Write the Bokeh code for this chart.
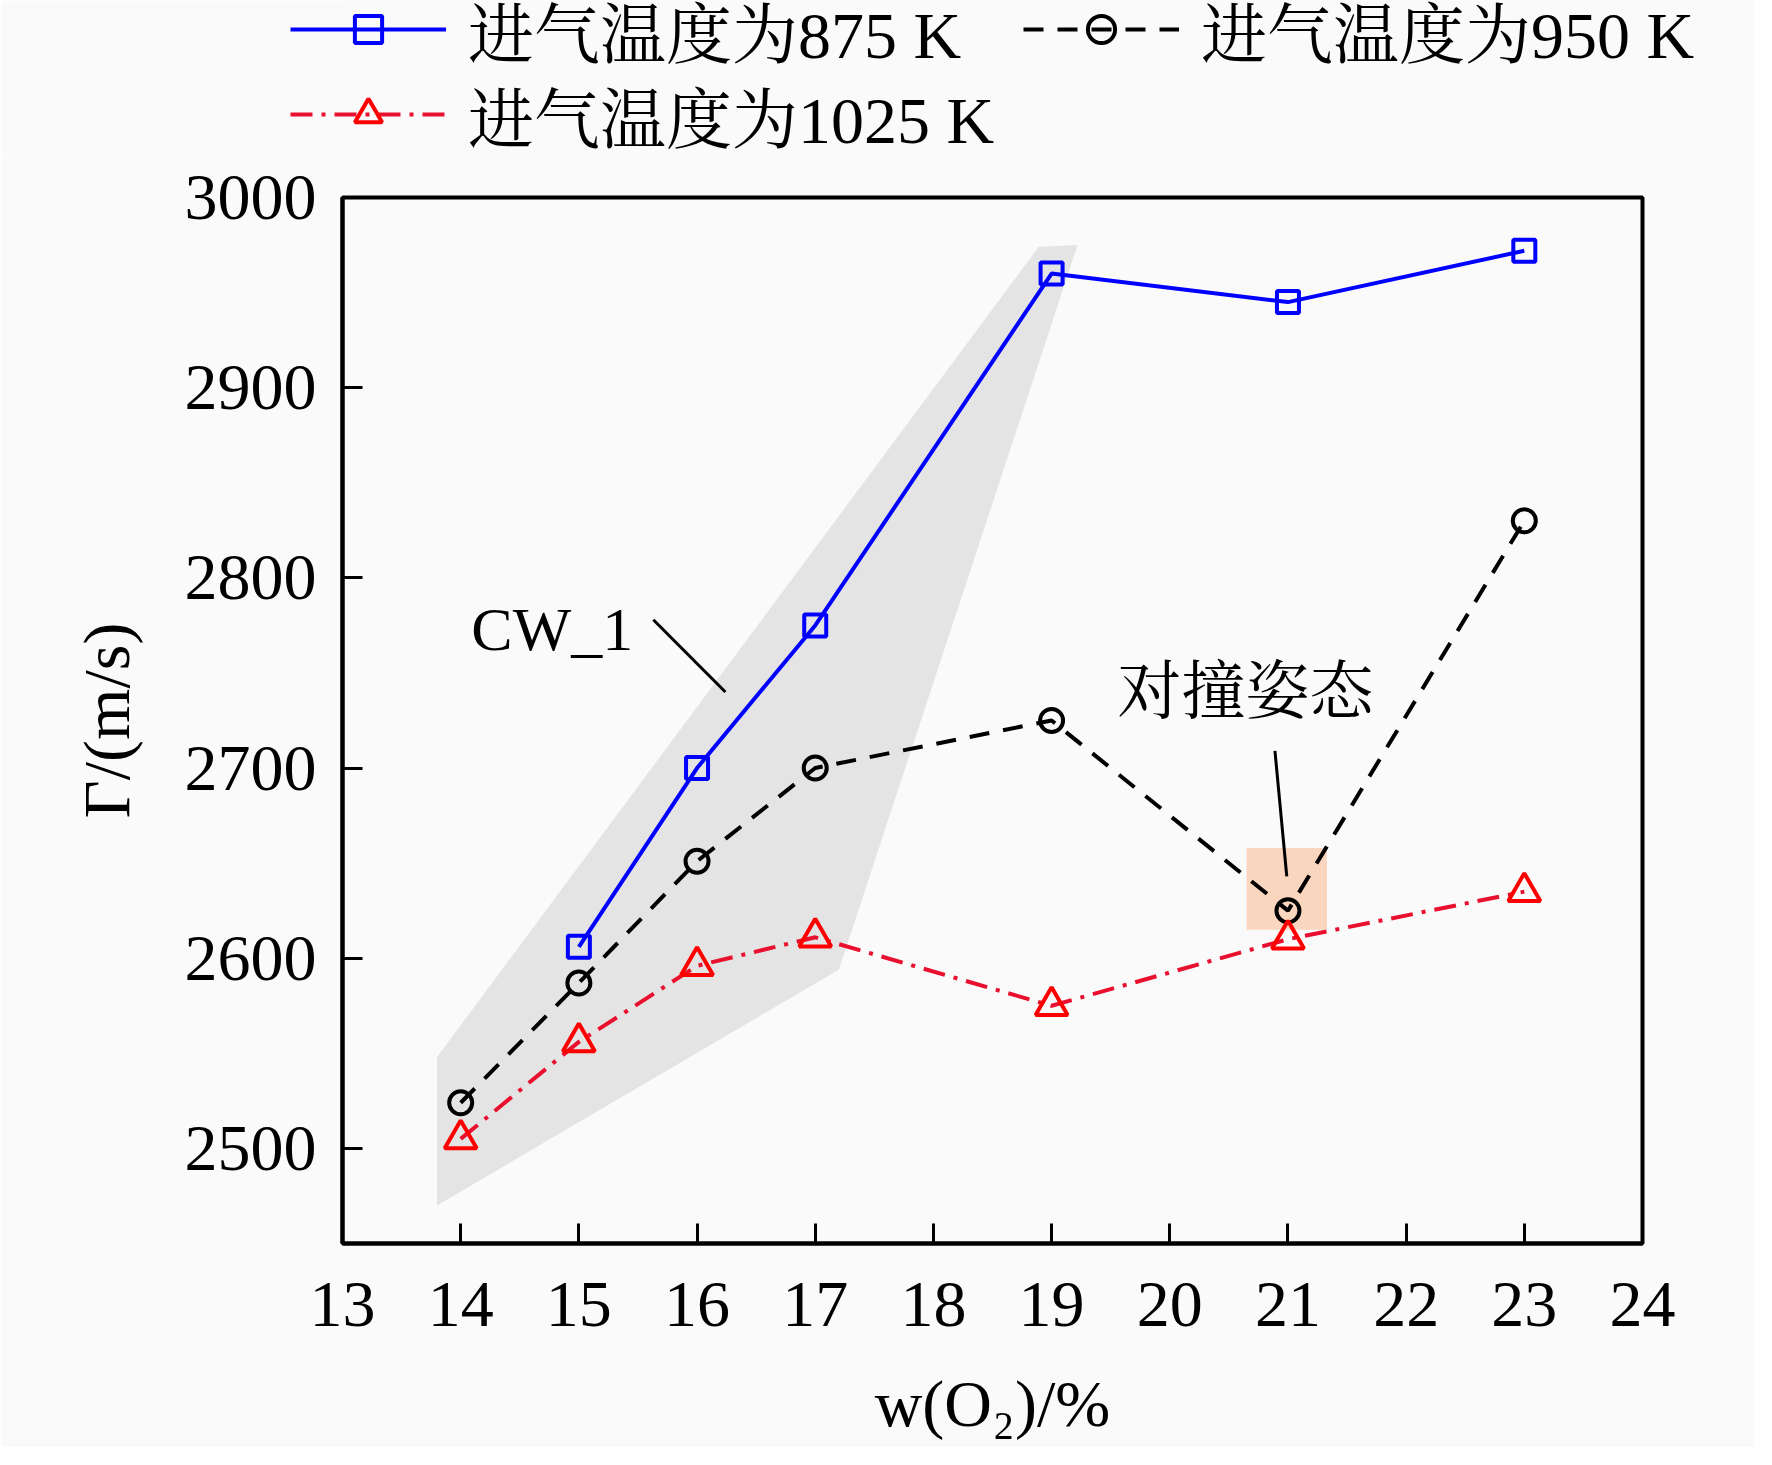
from bokeh.plotting import figure
from bokeh.layouts import column
from bokeh.models import Legend, LegendItem, FixedTicker, Range1d
from bokeh.embed import file_html
from bokeh.resources import INLINE
from bokeh.core.properties import value

# ---- data ----
x_875 = [15, 16, 17, 19, 21, 23]
v_875 = [2606, 2700, 2775, 2960, 2945, 2972]
x_950 = [14, 15, 16, 17, 19, 21, 23]
v_950 = [2524, 2587, 2651, 2700, 2725, 2625, 2830]
x_1025 = [14, 15, 16, 17, 19, 21, 23]
v_1025 = [2505, 2556, 2596, 2611, 2575, 2610, 2635]

labels = ["进气温度为875 K", "进气温度为950 K", "进气温度为1025 K"]
x_ticks = list(range(13, 25))
y_ticks = [2500, 2600, 2700, 2800, 2900, 3000]
x_title = "w(O₂)/%"
y_title = "Γ/(m/s)"

# shaded CW_1 region
cw_x = [13.80, 13.80, 18.89, 19.22, 17.20]
cw_y = [2470, 2548, 2974, 2975, 2594]
# highlighted collision box
box_x = [20.65, 21.33]
box_y = [2615, 2658]
# annotations
cw_text = ["CW_1"]
cw_text_x = [14.09]
cw_text_y = [2773]
cw_lead_x = [15.63, 16.24]
cw_lead_y = [2778, 2740]
col_text = ["对撞姿态"]
col_text_x = [20.64]
col_text_y = [2740]
col_lead_x = [20.89, 20.99]
col_lead_y = [2709, 2643]

SERIF = "Liberation Serif, Noto Serif CJK SC, Noto Sans CJK SC"
BG = "#FAFAFA"

# series styles
S875 = dict(line=dict(line_color="#0000FF", line_width=4),
            mark=dict(marker="square", size=22, line_color="#0000FF", line_width=4, fill_alpha=0))
S950 = dict(line=dict(line_color="black", line_width=4, line_dash="20 14"),
            mark=dict(marker="circle", size=23, line_color="black", line_width=4, fill_alpha=0))
S1025 = dict(line=dict(line_color="#E8102E", line_width=4, line_dash="22 9 4 9"),
             mark=dict(marker="triangle", size=32, line_color="#FF0000", line_width=4, fill_alpha=0))

FULL_W = 1754
LEG_H = 158

p = figure(frame_width=1300, frame_height=1046,
           x_range=Range1d(13, 24), y_range=Range1d(2450, 3000),
           min_border_left=342, min_border_top=197 - LEG_H,
           min_border_right=FULL_W - 342 - 1300, min_border_bottom=204,
           output_backend="svg", toolbar_location=None,
           background_fill_color=BG, border_fill_color=BG)
p.grid.visible = False
p.outline_line_color = "black"
p.outline_line_width = 4

for ax in (p.xaxis[0], p.yaxis[0]):
    ax.axis_line_width = 4
    ax.major_tick_line_width = 3
    ax.major_tick_in = 20
    ax.major_tick_out = 0
    ax.minor_tick_line_color = None
    ax.major_label_text_font = SERIF
    ax.major_label_text_font_size = "66px"
    ax.major_label_text_color = "black"
    ax.axis_label_text_font = SERIF
    ax.axis_label_text_font_size = "66px"
    ax.axis_label_text_font_style = "normal"
    ax.axis_label_text_color = "black"
p.xaxis.ticker = FixedTicker(ticks=x_ticks)
p.yaxis.ticker = FixedTicker(ticks=y_ticks)
p.xaxis.major_label_standoff = 39
p.yaxis.major_label_standoff = 26
p.xaxis.axis_label = x_title
p.yaxis.axis_label = y_title
p.xaxis.axis_label_standoff = 38
p.yaxis.axis_label_standoff = 39

# shaded region and box
p.patch(cw_x, cw_y, fill_color="#E4E4E4", line_color=None)
p.quad(left=[box_x[0]], right=[box_x[1]], bottom=[box_y[0]], top=[box_y[1]],
       fill_color="#FBD6BE", line_color=None)

# annotations
p.line(cw_lead_x, cw_lead_y, line_color="black", line_width=3)
p.line(col_lead_x, col_lead_y, line_color="black", line_width=3)
p.text(cw_text_x, cw_text_y, text=cw_text, text_font=value(SERIF),
       text_font_size="62px", text_baseline="alphabetic", text_align="left", text_color="black")
p.text(col_text_x, col_text_y, text=col_text, text_font=value(SERIF),
       text_font_size="64px", text_baseline="middle", text_align="center", text_color="black")

# series
p.line(x_875, v_875, **S875["line"])
p.scatter(x_875, v_875, **S875["mark"])
p.line(x_950, v_950, **S950["line"])
p.scatter(x_950, v_950, **S950["mark"])
p.line(x_1025, v_1025, **S1025["line"])
p.scatter(x_1025, v_1025, **S1025["mark"])

# legend strip: separate figure above the plot, same series (outside its ranges)
lg = figure(frame_width=FULL_W, frame_height=LEG_H,
            x_range=Range1d(0, 1), y_range=Range1d(0, 1),
            x_axis_type=None, y_axis_type=None,
            min_border=0, output_backend="svg", toolbar_location=None,
            background_fill_color=BG, border_fill_color=BG, outline_line_color=None)
lg.grid.visible = False
items = []
for lab, xs, vs, st in zip(labels, (x_875, x_950, x_1025), (v_875, v_950, v_1025),
                           (S875, S950, S1025)):
    rl = lg.line(xs, vs, **st["line"])
    rm = lg.scatter(xs, vs, **st["mark"])
    items.append(LegendItem(label=lab, renderers=[rl, rm]))

common = dict(orientation="horizontal", glyph_width=156, glyph_height=68,
              label_height=100, label_width=520, label_standoff=22, spacing=35,
              padding=0, margin=0, label_text_font=SERIF, label_text_font_size="66px",
              label_text_color="black", background_fill_alpha=0, border_line_color=None)
legend_a = Legend(items=items[:2], location=(290, LEG_H - 79), **common)
legend_b = Legend(items=items[2:], location=(290, LEG_H - 164), **common)
lg.add_layout(legend_a)
lg.add_layout(legend_b)

layout = column(lg, p, spacing=0)
open("out.html", "w").write(file_html(layout, INLINE))
